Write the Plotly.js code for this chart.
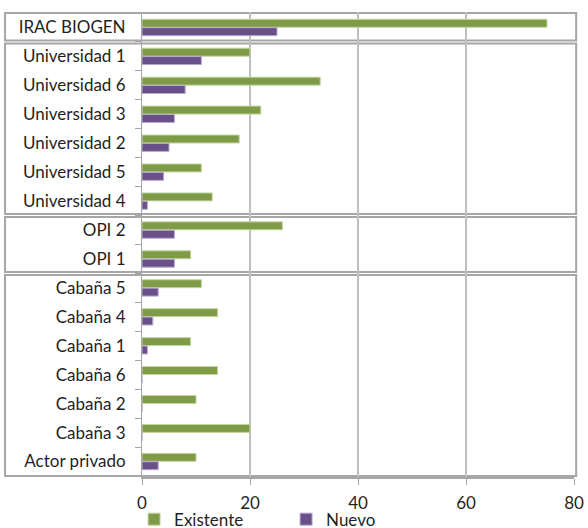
<!DOCTYPE html>
<html>
<head>
<meta charset="utf-8">
<script src="https://cdn.plot.ly/plotly-3.0.1.min.js"></script>
<style>
  html, body { margin: 0; padding: 0; background: #ffffff; }
  #chart { width: 588px; height: 528px; }
</style>
</head>
<body>
<div id="chart"></div>
<script>
// Actors, top to bottom
const actors = [
  'IRAC BIOGEN',
  'Universidad 1', 'Universidad 6', 'Universidad 3', 'Universidad 2', 'Universidad 5', 'Universidad 4',
  'OPI 2', 'OPI 1',
  'Cabaña 5', 'Cabaña 4', 'Cabaña 1', 'Cabaña 6', 'Cabaña 2', 'Cabaña 3', 'Actor privado'
];
// Number of actors in each framed group
const groupSizes = [1, 6, 2, 7];

const existente = [75, 20, 33, 22, 18, 11, 13, 26, 9, 11, 14, 9, 14, 10, 20, 10];
const nuevo     = [25, 11, 8, 6, 5, 4, 1, 6, 6, 3, 2, 1, 0, 0, 0, 3];

const xTicks = [0, 20, 40, 60, 80];

const FONT = 'Lato, "Open Sans", sans-serif';
const TEXT = '#1f1f1f';

const traces = [
  {
    type: 'bar', orientation: 'h', name: 'Existente',
    y: actors, x: existente,
    marker: { color: '#7f9b48', line: { color: '#c4d6a0', width: 1 } }
  },
  {
    type: 'bar', orientation: 'h', name: 'Nuevo',
    y: actors, x: nuevo,
    marker: { color: '#6a5089', line: { color: '#b9a9cf', width: 1 } }
  }
];

// Frames around each group of actors
const shapes = [];
let start = 0;
groupSizes.forEach((n, i) => {
  const end = start + n - 1;
  const inset = 0.05;
  shapes.push({
    type: 'rect', xref: 'paper', yref: 'y', layer: 'below',
    x0: -0.317, x1: 1.005,
    y0: start - 0.5 + (i === 0 ? 0 : inset),
    y1: end + 0.5 - (i === groupSizes.length - 1 ? 0 : inset),
    line: { color: '#a6a6a6', width: 2 },
    fillcolor: 'rgba(0,0,0,0)'
  });
  start = end + 1;
});

const layout = {
  width: 588, height: 528,
  margin: { l: 142, r: 14, t: 12, b: 51, autoexpand: false },
  paper_bgcolor: '#ffffff', plot_bgcolor: '#ffffff',
  font: { family: FONT, size: 17, color: TEXT },
  barmode: 'group', bargap: 0.42, bargroupgap: 0.05,
  showlegend: true,
  legend: {
    orientation: 'h', xref: 'container', yref: 'container',
    x: 0.228, y: 0.05, xanchor: 'left', yanchor: 'top',
    entrywidth: 107, entrywidthmode: 'pixels',
    bgcolor: 'rgba(0,0,0,0)',
    font: { family: FONT, size: 17, color: TEXT },
    itemclick: false
  },
  xaxis: {
    range: [0, 80], tickvals: xTicks, ticktext: xTicks.map(String),
    showgrid: true, gridcolor: '#bfbfbf', gridwidth: 1.5,
    showline: true, linecolor: '#a6a6a6', linewidth: 2,
    ticks: 'outside', ticklen: 6, tickcolor: '#a6a6a6', tickwidth: 1,
    ticklabelstandoff: 4,
    zeroline: false, fixedrange: true,
    tickfont: { family: FONT, size: 17, color: TEXT }
  },
  yaxis: {
    type: 'category', autorange: 'reversed',
    categoryorder: 'array', categoryarray: actors,
    showgrid: false, zeroline: false,
    showline: true, linecolor: '#a6a6a6', linewidth: 1,
    ticks: 'outside', ticklen: 6, tickcolor: '#a6a6a6', tickson: 'boundaries',
    ticklabelstandoff: 12,
    tickfont: { family: FONT, size: 17, color: TEXT },
    fixedrange: true
  },
  shapes: shapes
};

Plotly.newPlot('chart', traces, layout, { displayModeBar: false, staticPlot: true });
</script>
</body>
</html>
